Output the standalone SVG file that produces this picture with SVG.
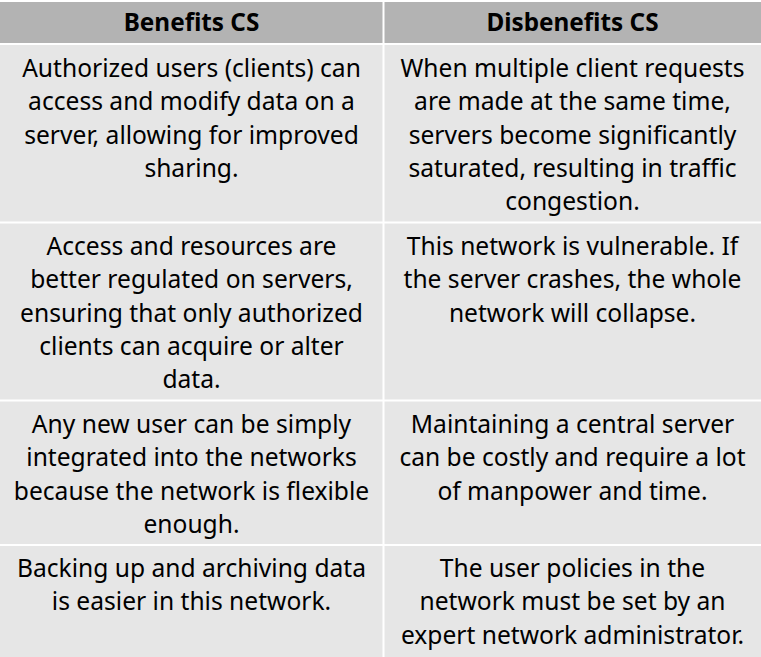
<svg xmlns="http://www.w3.org/2000/svg" width="761" height="657" viewBox="0 0 761 657">
<style>
.hd{fill:#b3b3b3}
.bd{fill:#e6e6e6}
.ln{stroke:#ffffff;stroke-width:2}
text{font-family:"Noto Sans","Open Sans","DejaVu Sans",sans-serif;font-size:24.6px;fill:#000;text-anchor:middle}
.h{font-weight:bold;font-size:24.3px}
</style>
<rect x="0" y="0" width="761" height="657" fill="#ffffff"/>
<g id="header">
<rect class="hd" x="0" y="0" width="761" height="44"/>
<text class="h" x="191.5" y="30.5">Benefits CS</text>
<text class="h" x="572.5" y="30.5">Disbenefits CS</text>
</g>
<g id="body">
<rect class="bd" x="0" y="44" width="761" height="613"/>
</g>
<g id="row1">
<text x="191.5" y="77">Authorized users (clients) can</text>
<text x="191.5" y="110.3">access and modify data on a</text>
<text x="191.5" y="143.6">server, allowing for improved</text>
<text x="191.5" y="176.9">sharing.</text>
<text x="572.5" y="77">When multiple client requests</text>
<text x="572.5" y="110.3">are made at the same time,</text>
<text x="572.5" y="143.6">servers become significantly</text>
<text x="572.5" y="176.9">saturated, resulting in traffic</text>
<text x="572.5" y="210.2">congestion.</text>
</g>
<g id="row2">
<text x="191.5" y="255">Access and resources are</text>
<text x="191.5" y="288.3">better regulated on servers,</text>
<text x="191.5" y="321.6">ensuring that only authorized</text>
<text x="191.5" y="354.9">clients can acquire or alter</text>
<text x="191.5" y="388.2">data.</text>
<text x="572.5" y="255">This network is vulnerable. If</text>
<text x="572.5" y="288.3">the server crashes, the whole</text>
<text x="572.5" y="321.6">network will collapse.</text>
</g>
<g id="row3">
<text x="191.5" y="433">Any new user can be simply</text>
<text x="191.5" y="466.3">integrated into the networks</text>
<text x="191.5" y="499.6">because the network is flexible</text>
<text x="191.5" y="532.9">enough.</text>
<text x="572.5" y="433">Maintaining a central server</text>
<text x="572.5" y="466.3">can be costly and require a lot</text>
<text x="572.5" y="499.6">of manpower and time.</text>
</g>
<g id="row4">
<text x="191.5" y="577">Backing up and archiving data</text>
<text x="191.5" y="610.3">is easier in this network.</text>
<text x="572.5" y="577">The user policies in the</text>
<text x="572.5" y="610.3">network must be set by an</text>
<text x="572.5" y="643.6">expert network administrator.</text>
</g>
<g id="connectors">
<line class="ln" x1="383.5" y1="0" x2="383.5" y2="657"/>
<line class="ln" x1="0" y1="44" x2="761" y2="44"/>
<line class="ln" x1="0" y1="222.5" x2="761" y2="222.5"/>
<line class="ln" x1="0" y1="400.5" x2="761" y2="400.5"/>
<line class="ln" x1="0" y1="545" x2="761" y2="545"/>
<line class="ln" x1="0" y1="1" x2="761" y2="1"/>
</g>
</svg>
